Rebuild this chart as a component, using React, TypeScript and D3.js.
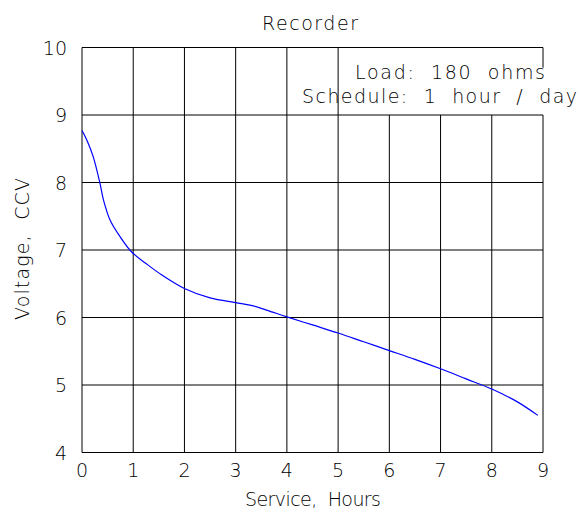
import React from "react";
import * as d3 from "d3";

const hours = [0, 0.1, 0.22, 0.35, 0.42, 0.55, 0.74, 0.97, 1.25, 1.52, 2.0, 2.5, 3.0, 3.3, 3.6, 4, 4.5, 5, 5.5, 6, 6.5, 7, 7.5, 8, 8.5, 8.9];
const volts = [8.77, 8.62, 8.38, 7.99, 7.74, 7.44, 7.2, 6.97, 6.8, 6.65, 6.43, 6.29, 6.22, 6.18, 6.11, 6.01, 5.89, 5.77, 5.64, 5.51, 5.38, 5.24, 5.09, 4.94, 4.75, 4.55];
const xTicks = [0, 1, 2, 3, 4, 5, 6, 7, 8, 9];
const yTicks = [4, 5, 6, 7, 8, 9, 10];
const title = "Recorder";
const legendLines = ["Load:  180  ohms", "Schedule:  1  hour  /  day"];
const xTitle = "Service,  Hours";
const yTitle = "Voltage,  CCV";

const W = 580, H = 512;
const FONT = "'DejaVu Sans', sans-serif";

export default function App() {
  const x = d3.scaleLinear().domain([0, 9]).range([82, 543]);
  const y = d3.scaleLinear().domain([4, 10]).range([452.5, 47.5]);
  const pts = hours.map((h, i) => [h, volts[i]] as [number, number]);
  const line = d3.line<[number, number]>().x(d => x(d[0])).y(d => y(d[1])).curve(d3.curveCatmullRom.alpha(0.5));
  const textStyle = { fontFamily: FONT, fontWeight: 200, fill: "#000", whiteSpace: "pre" } as any;
  return (
    <svg width={W} height={H} style={{ position: "absolute", left: 0, top: 0, background: "#fff" }}>
      <rect x={0} y={0} width={W} height={H} fill="#fff" />
      {yTicks.map(t => (
        <line key={"h" + t} x1={x(0)} x2={x(9)} y1={y(t)} y2={y(t)} stroke="#000" strokeWidth={1} />
      ))}
      {xTicks.filter(t => t > 0 && t < 9).map(t => (
        <line key={"v" + t} x1={x(t)} x2={x(t)} y1={y(4)} y2={t >= 6 ? y(9) : y(10)} stroke="#000" strokeWidth={1} />
      ))}
      <line x1={x(0)} x2={x(0)} y1={y(4)} y2={y(10)} stroke="#000" strokeWidth={1} />
      <line x1={x(9)} x2={x(9)} y1={y(10)} y2={y(9.7)} stroke="#000" strokeWidth={1} />
      <line x1={x(9)} x2={x(9)} y1={y(9)} y2={y(4)} stroke="#000" strokeWidth={1} />
      <path d={line(pts) || ""} fill="none" stroke="#0000ff" strokeWidth={1.2} />
      {xTicks.map(t => (
        <text key={"xt" + t} x={x(t)} y={477} textAnchor="middle" fontSize={19} style={textStyle}>{t}</text>
      ))}
      {yTicks.map(t => (
        <text key={"yt" + t} x={67} y={y(t) + 7} textAnchor="end" fontSize={19} style={textStyle}>{t}</text>
      ))}
      <text x={310} y={30} textAnchor="middle" fontSize={19} textLength={96} lengthAdjust="spacing" style={textStyle}>{title}</text>
      <text x={355} y={79} fontSize={19} textLength={190} lengthAdjust="spacing" style={textStyle}>{legendLines[0]}</text>
      <text x={302} y={103} fontSize={19} textLength={275} lengthAdjust="spacing" style={textStyle}>{legendLines[1]}</text>
      <text x={313} y={506} textAnchor="middle" fontSize={19} textLength={136} lengthAdjust="spacing" style={textStyle}>{xTitle}</text>
      <text transform={`translate(29,249) rotate(-90)`} x={0} y={0} textAnchor="middle" fontSize={19} textLength={142} lengthAdjust="spacing" style={textStyle}>{yTitle}</text>
    </svg>
  );
}
